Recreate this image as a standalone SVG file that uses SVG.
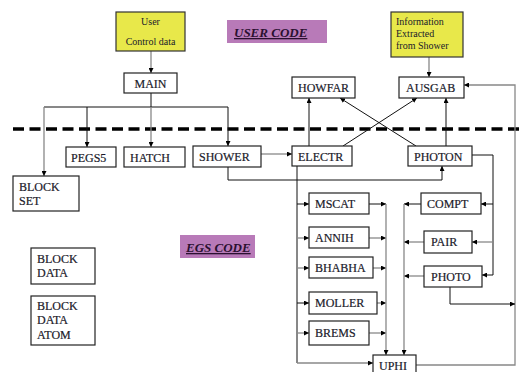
<svg xmlns="http://www.w3.org/2000/svg" width="522" height="372" viewBox="0 0 522 372">
  <defs>
    <marker id="ah" viewBox="0 0 6 6" refX="6" refY="3" markerWidth="5" markerHeight="5" orient="auto" markerUnits="userSpaceOnUse">
      <path d="M0,0 L6,3 L0,6 z" fill="#000"/>
    </marker>
    <style>
      .box { fill: #fff; stroke: #222; stroke-width: 1.2; }
      .note { fill: #e8e84a; stroke: #333; stroke-width: 1.2; }
      .tag { fill: #b87ab8; }
      .lbl { font-family: "Liberation Serif", "Times New Roman", serif; font-size: 12px; fill: #1a1a2a; stroke: #1a1a2a; stroke-width: 0.2; }
      .small { font-family: "Liberation Serif", "Times New Roman", serif; font-size: 10px; fill: #1a1a2a; }
      .tagtxt { font-family: "Liberation Serif", "Times New Roman", serif; font-size: 13px; font-weight: bold; font-style: italic; text-decoration: underline; fill: #2a1030; }
      .k { fill: none; stroke: #111; stroke-width: 1; }
      .g { fill: none; stroke: #888; stroke-width: 1.3; }
      .a { marker-end: url(#ah); }
      .dash { fill: none; stroke: #000; stroke-width: 3.5; stroke-dasharray: 11 5.5; }
    </style>
  </defs>

  <rect width="522" height="372" fill="#fff"/>

  <!-- section divider between user code and EGS code -->
  <line class="dash" x1="13" y1="129" x2="522" y2="129"/>

  <!-- section tags -->
  <g id="tag-user">
    <rect class="tag" x="227" y="20" width="100" height="23"/>
    <text class="tagtxt" x="234" y="37">USER CODE</text>
  </g>
  <g id="tag-egs">
    <rect class="tag" x="180" y="235" width="75" height="23"/>
    <text class="tagtxt" x="186" y="252">EGS CODE</text>
  </g>

  <!-- connectors -->
  <g id="connectors">
    <!-- user input to MAIN -->
    <line class="g a" x1="151" y1="51" x2="151" y2="73"/>
    <!-- MAIN fan-out -->
    <line class="k" x1="151" y1="93" x2="151" y2="107"/>
    <line class="k" x1="44" y1="107" x2="228" y2="107"/>
    <line class="g a" x1="44" y1="107" x2="44" y2="176"/>
    <line class="k a" x1="87" y1="107" x2="87" y2="147"/>
    <line class="g a" x1="151" y1="107" x2="151" y2="147"/>
    <line class="k a" x1="228" y1="107" x2="228" y2="146"/>
    <!-- shower info to AUSGAB -->
    <line class="g a" x1="429" y1="57" x2="429" y2="77"/>
    <!-- ELECTR / PHOTON up to HOWFAR / AUSGAB -->
    <line class="k a" x1="309" y1="146" x2="309" y2="98"/>
    <line class="k a" x1="343" y1="146" x2="417" y2="98"/>
    <line class="k a" x1="416" y1="146" x2="340" y2="98"/>
    <line class="k a" x1="446" y1="146" x2="446" y2="98"/>
    <!-- UPHI back to AUSGAB -->
    <polyline class="g a" points="416,365 515,365 515,85 464,85"/>
    <!-- SHOWER to ELECTR and PHOTON -->
    <line class="g a" x1="261" y1="154" x2="292" y2="154"/>
    <polyline class="k a" points="228,167 228,180 442,180 442,166"/>
    <!-- ELECTR trunk and branches -->
    <polyline class="k" points="297,166 297,363"/>
    <line class="k a" x1="297" y1="204" x2="309" y2="204"/>
    <line class="g a" x1="297" y1="238" x2="309" y2="238"/>
    <line class="g a" x1="297" y1="268" x2="309" y2="268"/>
    <line class="k a" x1="297" y1="303" x2="309" y2="303"/>
    <line class="g a" x1="297" y1="333" x2="309" y2="333"/>
    <line class="g a" x1="297" y1="363" x2="373" y2="363"/>
    <!-- electron interactions to UPHI -->
    <line class="k a" x1="369" y1="204" x2="386" y2="204"/>
    <line class="g a" x1="369" y1="238" x2="386" y2="238"/>
    <line class="g a" x1="373" y1="268" x2="386" y2="268"/>
    <line class="g a" x1="377" y1="303" x2="386" y2="303"/>
    <line class="g a" x1="369" y1="333" x2="386" y2="333"/>
    <line class="g a" x1="386" y1="204" x2="386" y2="355"/>
    <!-- PHOTON trunk and branches -->
    <polyline class="k a" points="472,155 493,155 493,275 482,275"/>
    <line class="k a" x1="493" y1="204" x2="481" y2="204"/>
    <line class="g a" x1="493" y1="242" x2="472" y2="242"/>
    <!-- photon interactions to UPHI -->
    <line class="k a" x1="421" y1="204" x2="404" y2="204"/>
    <line class="g a" x1="424" y1="242" x2="404" y2="242"/>
    <line class="g a" x1="424" y1="276" x2="404" y2="276"/>
    <line class="g a" x1="404" y1="204" x2="404" y2="355"/>
    <!-- PHOTO to the AUSGAB return line -->
    <polyline class="k a" points="450,287 450,304 515,304"/>
  </g>

  <!-- nodes -->
  <g id="user-data">
    <rect class="note" x="116" y="12" width="69" height="39"/>
    <text class="small" x="150.5" y="25" text-anchor="middle">User</text>
    <text class="small" x="150.5" y="45" text-anchor="middle">Control data</text>
  </g>
  <g id="shower-info">
    <rect class="note" x="391" y="12" width="72" height="45"/>
    <text class="small" x="396" y="25">Information</text>
    <text class="small" x="396" y="37">Extracted</text>
    <text class="small" x="396" y="49">from Shower</text>
  </g>
  <g id="main">
    <rect class="box" x="124" y="73" width="53" height="20"/>
    <text class="lbl" x="150.5" y="88" text-anchor="middle">MAIN</text>
  </g>
  <g id="howfar">
    <rect class="box" x="292" y="77" width="63" height="21"/>
    <text class="lbl" x="298" y="92">HOWFAR</text>
  </g>
  <g id="ausgab">
    <rect class="box" x="399" y="77" width="65" height="21"/>
    <text class="lbl" x="406" y="92">AUSGAB</text>
  </g>
  <g id="pegs5">
    <rect class="box" x="66" y="147" width="50" height="20"/>
    <text class="lbl" x="71" y="162">PEGS5</text>
  </g>
  <g id="hatch">
    <rect class="box" x="124" y="147" width="61" height="20"/>
    <text class="lbl" x="130" y="162">HATCH</text>
  </g>
  <g id="shower">
    <rect class="box" x="193" y="146" width="68" height="21"/>
    <text class="lbl" x="199" y="161">SHOWER</text>
  </g>
  <g id="electr">
    <rect class="box" x="292" y="146" width="60" height="20"/>
    <text class="lbl" x="298" y="161">ELECTR</text>
  </g>
  <g id="photon">
    <rect class="box" x="408" y="146" width="64" height="20"/>
    <text class="lbl" x="414" y="161">PHOTON</text>
  </g>
  <g id="block-set">
    <rect class="box" x="13" y="176" width="66" height="35"/>
    <text class="lbl" x="19" y="191">BLOCK</text>
    <text class="lbl" x="19" y="205">SET</text>
  </g>
  <g id="block-data">
    <rect class="box" x="31" y="248" width="64" height="36"/>
    <text class="lbl" x="37" y="263">BLOCK</text>
    <text class="lbl" x="37" y="277">DATA</text>
  </g>
  <g id="block-data-atom">
    <rect class="box" x="31" y="296" width="64" height="49"/>
    <text class="lbl" x="37" y="310">BLOCK</text>
    <text class="lbl" x="37" y="324">DATA</text>
    <text class="lbl" x="37" y="339">ATOM</text>
  </g>
  <g id="mscat">
    <rect class="box" x="309" y="193" width="60" height="21"/>
    <text class="lbl" x="315" y="208">MSCAT</text>
  </g>
  <g id="annih">
    <rect class="box" x="309" y="227" width="60" height="21"/>
    <text class="lbl" x="315" y="242">ANNIH</text>
  </g>
  <g id="bhabha">
    <rect class="box" x="309" y="257" width="64" height="21"/>
    <text class="lbl" x="315" y="272">BHABHA</text>
  </g>
  <g id="moller">
    <rect class="box" x="309" y="292" width="68" height="22"/>
    <text class="lbl" x="315" y="307">MOLLER</text>
  </g>
  <g id="brems">
    <rect class="box" x="309" y="321" width="60" height="24"/>
    <text class="lbl" x="315" y="337">BREMS</text>
  </g>
  <g id="compt">
    <rect class="box" x="421" y="193" width="60" height="21"/>
    <text class="lbl" x="427" y="208">COMPT</text>
  </g>
  <g id="pair">
    <rect class="box" x="424" y="231" width="48" height="22"/>
    <text class="lbl" x="431" y="246">PAIR</text>
  </g>
  <g id="photo">
    <rect class="box" x="424" y="266" width="58" height="21"/>
    <text class="lbl" x="431" y="281">PHOTO</text>
  </g>
  <g id="uphi">
    <rect class="box" x="373" y="355" width="43" height="20"/>
    <text class="lbl" x="379" y="370">UPHI</text>
  </g>
</svg>
